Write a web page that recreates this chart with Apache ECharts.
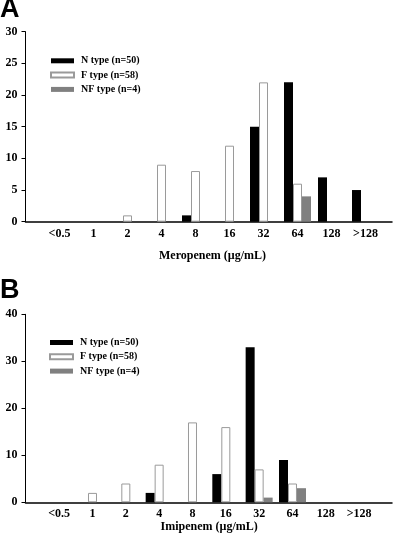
<!DOCTYPE html>
<html>
<head>
<meta charset="utf-8">
<script src="https://cdn.jsdelivr.net/npm/echarts@6/dist/echarts.min.js"></script>
<style>
  html, body { margin: 0; padding: 0; background: #fff; }
  #chart { width: 400px; height: 540px; }
</style>
</head>
<body>
<div id="chart"></div>
<script>
const categories = ['<0.5', '1', '2', '4', '8', '16', '32', '64', '128', '>128'];
const seriesNames = ['N type (n=50)', 'F type (n=58)', 'NF type (n=4)'];

// Panel A: Meropenem
const merN  = [0, 0, 0, 0, 1, 0, 15, 22, 7, 5];
const merF  = [0, 0, 1, 9, 8, 12, 22, 6, 0, 0];
const merNF = [0, 0, 0, 0, 0, 0, 0, 4, 0, 0];

// Panel B: Imipenem
const impN  = [0, 0, 0, 2, 0, 6, 33, 9, 0, 0];
const impF  = [0, 2, 4, 8, 17, 16, 7, 4, 0, 0];
const impNF = [0, 0, 0, 0, 0, 0, 1, 3, 0, 0];

const serif = 'Liberation Serif';
const nz = a => a.map(v => (v === 0 ? null : v));

const styles = [
  { color: '#000000', borderColor: '#000000', borderWidth: 0 },
  { color: '#ffffff', borderColor: '#9a9a9a', borderWidth: 1 },
  { color: '#808080', borderColor: '#777777', borderWidth: 0 }
];

function barSeries(axisIdx, arrays) {
  return arrays.map((arr, i) => ({
    name: seriesNames[i],
    type: 'bar',
    xAxisIndex: axisIdx,
    yAxisIndex: axisIdx,
    barWidth: 9,
    barGap: '0%',
    itemStyle: styles[i],
    data: nz(arr),
    silent: true,
    animation: false
  }));
}

const chart = echarts.init(document.getElementById('chart'), null, { renderer: 'canvas' });

const frameX = (gi) => ({
  type: 'value', gridIndex: gi, min: 0, max: 1,
  axisLine: { show: true, lineStyle: { color: '#000', width: 1.5 } },
  axisTick: { show: false }, axisLabel: { show: false }, splitLine: { show: false }
});
const frameY = (gi, max, interval) => ({
  type: 'value', gridIndex: gi, min: 0, max: max, interval: interval,
  axisLine: { show: true, lineStyle: { color: '#000', width: 1 } },
  axisTick: { show: true, inside: false, length: 4, lineStyle: { color: '#000', width: 1 } },
  axisLabel: { color: '#000', fontFamily: serif, fontWeight: 'bold', fontSize: 12, margin: 8 },
  splitLine: { show: false }
});
const barX = (gi, name, gap) => ({
  type: 'category', gridIndex: gi, data: categories,
  axisLine: { show: false }, axisTick: { show: false }, splitLine: { show: false },
  axisLabel: { color: '#000', fontFamily: serif, fontWeight: 'bold', fontSize: 12, margin: 6, interval: 0 },
  name: name, nameLocation: 'middle', nameGap: gap,
  nameTextStyle: { color: '#000', fontFamily: serif, fontWeight: 'bold', fontSize: 12 }
});
const barY = (gi, max) => ({
  type: 'value', gridIndex: gi, min: 0, max: max,
  show: false, splitLine: { show: false }
});

const legendCommon = {
  orient: 'vertical',
  data: seriesNames,
  itemWidth: 23,
  itemHeight: 5,
  itemGap: 2.3,
  padding: 0,
  icon: 'rect',
  selectedMode: false,
  textStyle: { color: '#000', fontFamily: serif, fontWeight: 'bold', fontSize: 10, lineHeight: 12, padding: [0, 0, 0, 2] }
};

chart.setOption({
  animation: false,
  backgroundColor: '#ffffff',
  title: [
    { text: 'A', left: 0, top: -4, padding: 0,
      textStyle: { fontFamily: 'Liberation Sans', fontWeight: 'bold', fontSize: 27, color: '#000' } },
    { text: 'B', left: 0, top: 277, padding: 0,
      textStyle: { fontFamily: 'Liberation Sans', fontWeight: 'bold', fontSize: 27, color: '#000' } }
  ],
  legend: [
    Object.assign({}, legendCommon, { left: 50, top: 54.8 }),
    Object.assign({}, legendCommon, { left: 49, top: 336.5 })
  ],
  grid: [
    { left: 25.5, right: 8, top: 31.7, height: 190, containLabel: false },
    { left: 42.5, width: 340, top: 31.7, height: 190, containLabel: false },
    { left: 25.5, right: 8, top: 314.3, height: 188, containLabel: false },
    { left: 42.5, width: 333.3, top: 314.3, height: 188, containLabel: false }
  ],
  xAxis: [
    frameX(0),
    barX(1, 'Meropenem (µg/mL)', 28),
    frameX(2),
    barX(3, 'Imipenem (µg/mL)', 18)
  ],
  yAxis: [
    frameY(0, 30, 5),
    barY(1, 30),
    frameY(2, 40, 10),
    barY(3, 40)
  ],
  series: [].concat(
    barSeries(1, [merN, merF, merNF]),
    barSeries(3, [impN, impF, impNF])
  )
});
</script>
</body>
</html>
